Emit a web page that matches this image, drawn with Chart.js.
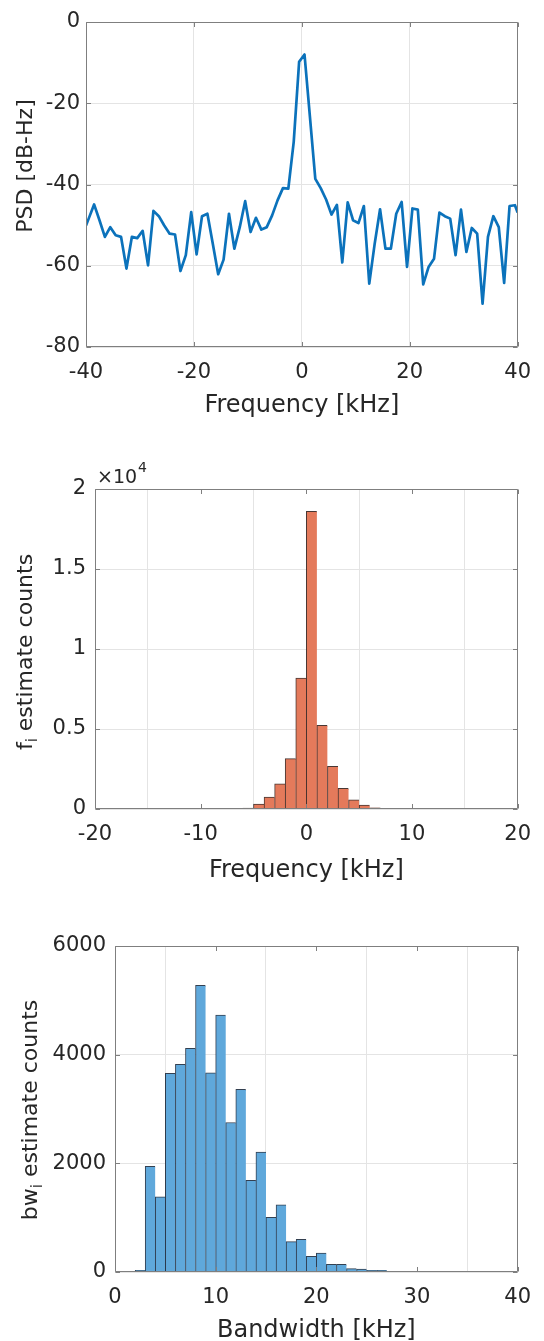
<!DOCTYPE html>
<html><head><meta charset="utf-8">
<script src="https://cdn.jsdelivr.net/npm/chart.js@4/dist/chart.umd.min.js"></script>
<style>
html,body{margin:0;padding:0;background:#fff;}
#wrap{position:relative;width:544px;height:1341px;overflow:hidden;background:#fff;}
canvas{position:absolute;left:0;}
</style></head><body>
<div id="wrap">
<canvas id="c1" width="544" height="430" style="top:0px"></canvas>
<canvas id="c2" width="544" height="470" style="top:430px"></canvas>
<canvas id="c3" width="544" height="441" style="top:900px"></canvas>
</div>
<script>
// ---------- data ----------
const psdFreq = [-40, -39.5, -38.5, -37.5, -36.5, -35.5, -34.5, -33.5, -32.5, -31.5, -30.5,
  -29.5, -28.5, -27.5, -26.5, -25.5, -24.5, -23.5, -22.5, -21.5, -20.5,
  -19.5, -18.5, -17.5, -16.5, -15.5, -14.5, -13.5, -12.5, -11.5, -10.5,
  -9.5, -8.5, -7.5, -6.5, -5.5, -4.5, -3.5, -2.5, -1.5, -0.5,
  0.5, 1.5, 2.5, 3.5, 4.5, 5.5, 6.5, 7.5, 8.5, 9.5,
  10.5, 11.5, 12.5, 13.5, 14.5, 15.5, 16.5, 17.5, 18.5, 19.5,
  20.5, 21.5, 22.5, 23.5, 24.5, 25.5, 26.5, 27.5, 28.5, 29.5,
  30.5, 31.5, 32.5, 33.5, 34.5, 35.5, 36.5, 37.5, 38.5, 39.5, 40];
const psdDb = [-50.1, -48.4, -44.9, -48.8, -52.9, -50.5, -52.5, -52.9, -60.7, -52.9, -53.2,
  -51.4, -59.9, -46.5, -47.8, -50.1, -52.1, -52.3, -61.3, -57.4, -46.8,
  -57.2, -47.8, -47.2, -54.6, -62.1, -58.5, -47.2, -55.8, -50.5, -44.1,
  -51.7, -48.2, -51.1, -50.5, -47.6, -43.9, -40.9, -41.0, -29.5, -9.8,
  -8.0, -23.3, -38.6, -40.9, -43.7, -47.4, -45.0, -59.2, -44.4, -48.8,
  -49.5, -45.3, -64.4, -54.6, -46.1, -55.8, -55.8, -47.2, -44.3, -60.3,
  -45.9, -46.2, -64.6, -60.3, -58.3, -46.9, -47.8, -48.4, -57.4, -46.2,
  -56.6, -50.7, -52.1, -69.3, -52.9, -47.8, -50.5, -64.2, -45.3, -45.1, -46.9];

const fiBinCenters = [-5.5, -4.5, -3.5, -2.5, -1.5, -0.5, 0.5, 1.5, 2.5, 3.5, 4.5, 5.5, 6.5];
const fiCounts = [60, 310, 750, 1580, 3150, 8190, 18600, 5230, 2670, 1290, 580, 250, 80];

const bwBinCenters = [2.5, 3.5, 4.5, 5.5, 6.5, 7.5, 8.5, 9.5, 10.5, 11.5, 12.5, 13.5, 14.5,
  15.5, 16.5, 17.5, 18.5, 19.5, 20.5, 21.5, 22.5, 23.5, 24.5, 25.5, 26.5, 27.5];
const bwCounts = [30, 1947, 1382, 3655, 3821, 4115, 5276, 3667, 4730, 2752, 3360, 1689, 2205,
  1007, 1235, 559, 602, 289, 350, 141, 141, 61, 55, 30, 30, 12];

const psdXTicks = [-40, 40, 20];   // min, max, step
const psdYTicks = [-80, 0, 20];
const fiXTicks = [-20, 20, 10];
const fiYTicks = [0, 20000, 5000];
const bwXTicks = [0, 40, 10];
const bwYTicks = [0, 6000, 2000];

// ---------- style ----------
const FONT = '"DejaVu Sans", sans-serif';
const TXT = '#262626';
const GRID = '#e4e4e4';
const BOX = '#7f7f7f';
const W = 544;

const framePlugin = {
  id: 'frame',
  afterDraw(chart, args, o) {
    const {ctx, chartArea: a, scales: {x, y}} = chart;
    ctx.save();
    ctx.strokeStyle = BOX; ctx.lineWidth = 1;
    const l = Math.round(a.left) + 0.5, r = Math.round(a.right) - 0.5;
    const t = Math.round(a.top) + 0.5, b = Math.round(a.bottom) - 0.5;
    ctx.beginPath(); ctx.rect(l, t, r - l, b - t); ctx.stroke();
    const TL = 4.5;
    ctx.beginPath();
    x.ticks.forEach(tk => {
      const p = Math.round(x.getPixelForValue(tk.value)) + 0.5;
      ctx.moveTo(p, b); ctx.lineTo(p, b - TL);
      ctx.moveTo(p, t); ctx.lineTo(p, t + TL);
    });
    y.ticks.forEach(tk => {
      const p = Math.round(y.getPixelForValue(tk.value)) + 0.5;
      ctx.moveTo(l, p); ctx.lineTo(l + TL, p);
      ctx.moveTo(r, p); ctx.lineTo(r - TL, p);
    });
    ctx.stroke();

    ctx.fillStyle = TXT;
    // x title
    if (o.xTitle) {
      ctx.font = '24px ' + FONT;
      ctx.textAlign = 'center'; ctx.textBaseline = 'alphabetic';
      ctx.fillText(o.xTitle.text, (a.left + a.right) / 2, o.xTitle.y);
    }
    // y title (rotated, with optional subscript parts)
    if (o.yTitle) {
      const big = '22px ' + FONT, small = '15px ' + FONT;
      let total = 0;
      o.yTitle.parts.forEach(p => { ctx.font = p.sub ? small : big; total += ctx.measureText(p.t).width; });
      ctx.translate(o.yTitle.x, o.yTitle.y);
      ctx.rotate(-Math.PI / 2);
      ctx.textAlign = 'left'; ctx.textBaseline = 'alphabetic';
      let cx = -total / 2;
      o.yTitle.parts.forEach(p => {
        ctx.font = p.sub ? small : big;
        ctx.fillText(p.t, cx, p.sub ? 5 : 0);
        cx += ctx.measureText(p.t).width;
      });
      ctx.setTransform(1, 0, 0, 1, 0, 0);
    }
    // exponent label
    if (o.expo) {
      ctx.textAlign = 'left'; ctx.textBaseline = 'alphabetic';
      ctx.font = '19px ' + FONT;
      ctx.fillText(o.expo.base, o.expo.x, o.expo.y);
      const w = ctx.measureText(o.expo.base).width;
      ctx.font = '14px ' + FONT;
      ctx.fillText(o.expo.sup, o.expo.x + w + 1, o.expo.y - 11);
    }
    ctx.restore();
  }
};

function makeScales(area, H, xr, yr, ypad, ycb) {
  return {
    x: {
      type: 'linear', min: xr[0], max: xr[1], offset: false,
      ticks: {stepSize: xr[2], color: TXT, font: {family: FONT, size: 21}, padding: 13,
              maxRotation: 0, autoSkip: false},
      grid: {color: GRID, drawTicks: false, lineWidth: 1},
      border: {display: false},
      afterFit(s) { s.height = H - area.bottom; }
    },
    y: {
      type: 'linear', min: yr[0], max: yr[1],
      ticks: {stepSize: yr[2], color: TXT, font: {family: FONT, size: 21}, padding: ypad,
              callback: ycb || (v => String(v))},
      grid: {color: GRID, drawTicks: false, lineWidth: 1},
      border: {display: false},
      afterFit(s) { s.width = area.left; }
    }
  };
}

function commonOpts(area, H, scales, frame) {
  return {
    responsive: false, animation: false, devicePixelRatio: 1,
    layout: {padding: {left: 0, top: area.top, right: W - area.right, bottom: 0}},
    scales: scales,
    plugins: {legend: {display: false}, tooltip: {enabled: false}, frame: frame}
  };
}

// ---------- chart 1: PSD ----------
const a1 = {left: 86, right: 528, top: 22, bottom: 347}, H1 = 430;
new Chart(document.getElementById('c1'), {
  type: 'line',
  data: {datasets: [{
    data: psdFreq.map((f, i) => ({x: f, y: psdDb[i]})),
    borderColor: '#0b72bb', borderWidth: 2.7, pointRadius: 0, tension: 0,
    borderJoinStyle: 'round', fill: false
  }]},
  options: commonOpts(a1, H1,
    makeScales(a1, H1, psdXTicks, psdYTicks, 6),
    {xTitle: {text: 'Frequency [kHz]', y: 412},
     yTitle: {parts: [{t: 'PSD [dB-Hz]'}], x: 32, y: 166}}),
  plugins: [framePlugin]
});

// ---------- chart 2: f_i histogram ----------
const a2 = {left: 95, right: 528, top: 59, bottom: 379}, H2 = 470;
new Chart(document.getElementById('c2'), {
  type: 'bar',
  data: {datasets: [{
    data: fiBinCenters.map((c, i) => ({x: c, y: fiCounts[i]})),
    backgroundColor: '#e47a5b', borderColor: 'rgba(40,20,15,0.85)',
    borderWidth: ctx => ({top: 1, left: 1, bottom: 0, right: ctx.dataIndex === fiCounts.length - 1 ? 1 : 0}),
    borderSkipped: false, barPercentage: 1, categoryPercentage: 1
  }]},
  options: commonOpts(a2, H2,
    makeScales(a2, H2, fiXTicks, fiYTicks, 9, v => String(v / 10000)),
    {xTitle: {text: 'Frequency [kHz]', y: 447},
     yTitle: {parts: [{t: 'f'}, {t: 'i', sub: true}, {t: ' estimate counts'}], x: 32, y: 222},
     expo: {base: '\u00d710', sup: '4', x: 97, y: 53}}),
  plugins: [framePlugin]
});

// ---------- chart 3: bw_i histogram ----------
const a3 = {left: 115, right: 528, top: 46, bottom: 372}, H3 = 441;
new Chart(document.getElementById('c3'), {
  type: 'bar',
  data: {datasets: [{
    data: bwBinCenters.map((c, i) => ({x: c, y: bwCounts[i]})),
    backgroundColor: '#5fa8db', borderColor: 'rgba(15,30,50,0.85)',
    borderWidth: ctx => ({top: 1, left: 1, bottom: 0, right: ctx.dataIndex === bwCounts.length - 1 ? 1 : 0}),
    borderSkipped: false, barPercentage: 1, categoryPercentage: 1
  }]},
  options: commonOpts(a3, H3,
    makeScales(a3, H3, bwXTicks, bwYTicks, 9),
    {xTitle: {text: 'Bandwidth [kHz]', y: 437},
     yTitle: {parts: [{t: 'bw'}, {t: 'i', sub: true}, {t: ' estimate counts'}], x: 37, y: 210}}),
  plugins: [framePlugin]
});
</script>
</body></html>
